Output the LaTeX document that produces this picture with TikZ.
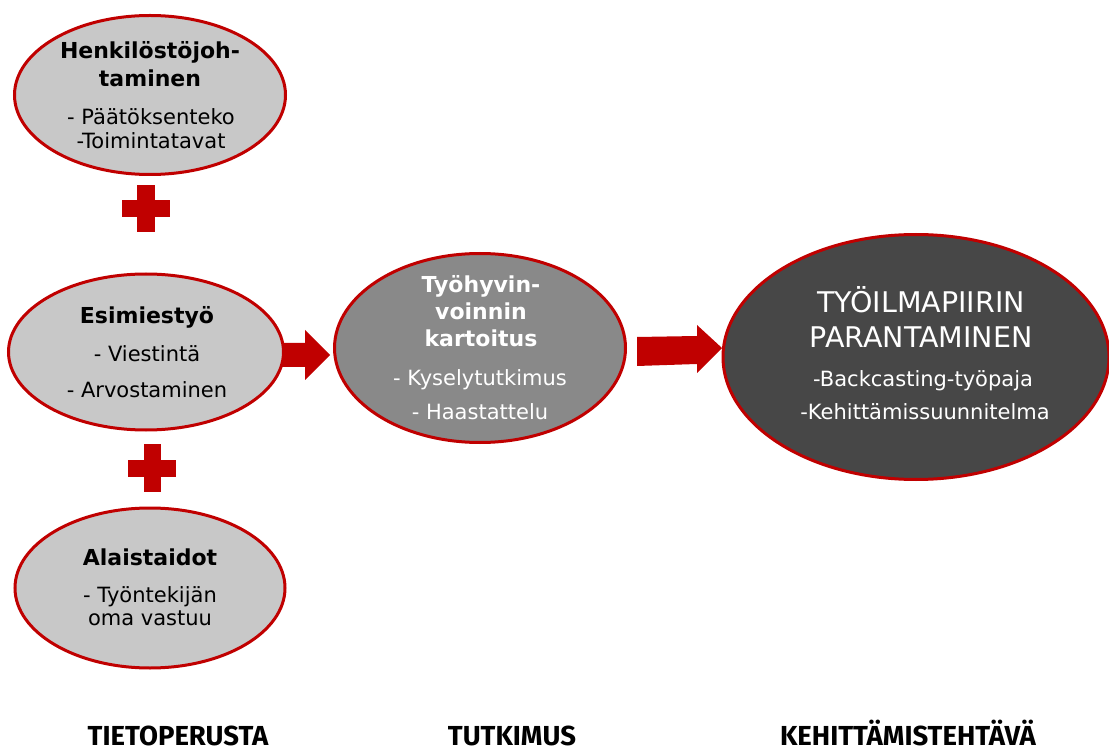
\documentclass[tikz,border=0pt]{standalone}
\usepackage{fontspec}
\usetikzlibrary{shapes.geometric}
\setmainfont{DejaVu Sans}
\newfontfamily\lblfont{Fira Sans}
\definecolor{dred}{HTML}{C00000}
\definecolor{lgray}{HTML}{C8C8C8}
\definecolor{mgray}{HTML}{898989}
\definecolor{dgray}{HTML}{474747}
\begin{document}
\begin{tikzpicture}[x=1pt,y=-1pt,
  oval/.style={ellipse, draw=dred, line width=3pt, inner sep=0pt},
  ttl/.style={anchor=base, inner sep=0pt, font=\bfseries\fontsize{22}{26}\selectfont},
  bdy/.style={anchor=base, inner sep=0pt, font=\fontsize{21}{25}\selectfont},
  big/.style={anchor=base, inner sep=0pt, font=\fontsize{28.5}{32}\selectfont},
  lbl/.style={anchor=base, inner sep=0pt, text depth=0pt, font=\lblfont\bfseries\fontsize{27.5}{30}\selectfont},
  blockarrow/.style={fill=dred, draw=none},
  plusbar/.style={fill=dred, draw=none}]
\useasboundingbox (0,0) rectangle (1109,751);
% block arrows (behind ellipses)
\fill[blockarrow] (280,343) -- (305,343) -- (305,330) -- (330,355) -- (305,380) -- (305,367) -- (280,367) -- cycle;
\fill[blockarrow] (637,337) -- (697,336) -- (697,325) -- (722,348) -- (697,373) -- (697,364) -- (637,366) -- cycle;
% ellipses
\node[oval, fill=lgray, minimum width=271pt, minimum height=159pt] (e1) at (150,95) {};
\node[oval, fill=lgray, minimum width=275pt, minimum height=156pt] (e2) at (146,352) {};
\node[oval, fill=mgray, minimum width=291pt, minimum height=189pt] (e3) at (480,348) {};
\node[oval, fill=dgray, minimum width=386pt, minimum height=245pt] (e4) at (916,357) {};
\node[oval, fill=lgray, minimum width=270pt, minimum height=160pt] (e5) at (150,588) {};
% plus signs
\fill[plusbar] (137,185) rectangle (155,232);
\fill[plusbar] (122,200) rectangle (170,217);
\fill[plusbar] (144,444) rectangle (161,492);
\fill[plusbar] (128,460) rectangle (176,477);
% texts ellipse 1
\node[ttl] (t11) at (150,59) {Henkilöstöjoh-};
\node[ttl] (t12) at (150,87) {taminen};
\node[bdy] (t13) at (151,125) {- Päätöksenteko};
\node[bdy] (t14) at (151,149) {-Toimintatavat};
% ellipse 2
\node[ttl] (t21) at (147,324) {Esimiestyö};
\node[bdy] (t22) at (147,362) {- Viestintä};
\node[bdy] (t23) at (147,397) {- Arvostaminen};
% ellipse 3
\node[ttl, text=white] (t31) at (481,293) {Työhyvin-};
\node[ttl, text=white] (t32) at (481,320) {voinnin};
\node[ttl, text=white] (t33) at (481,347) {kartoitus};
\node[bdy, text=white] (t34) at (480,385) {- Kyselytutkimus};
\node[bdy, text=white] (t35) at (480,420) {- Haastattelu};
% ellipse 4
\node[big, text=white] (t41) at (921,313) {TYÖILMAPIIRIN};
\node[big, text=white] (t42) at (921,348) {PARANTAMINEN};
\node[bdy, text=white] (t43) at (923,387) {-Backcasting-työpaja};
\node[bdy, text=white] (t44) at (925,420) {-Kehittämissuunnitelma};
% ellipse 5
\node[ttl] (t51) at (150,565) {Alaistaidot};
\node[bdy] (t52) at (150,602) {- Työntekijän};
\node[bdy] (t53) at (150,625) {oma vastuu};
% bottom labels
\node[lbl] (l1) at (178,745) {TIETOPERUSTA};
\node[lbl] (l2) at (512,745) {TUTKIMUS};
\node[lbl] (l3) at (908,745) {KEHITTÄMISTEHTÄVÄ};
\end{tikzpicture}
\end{document}
